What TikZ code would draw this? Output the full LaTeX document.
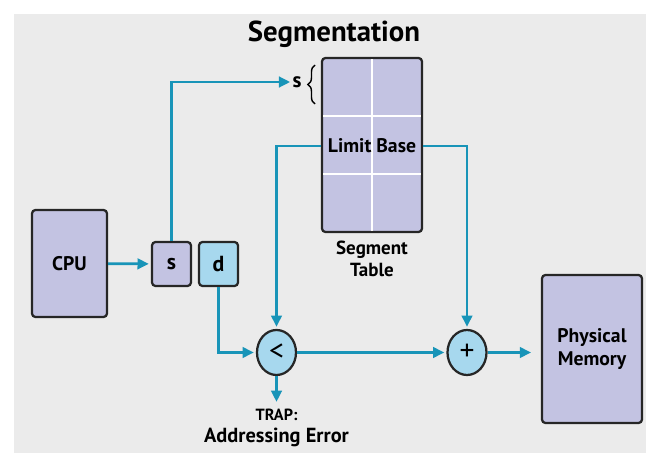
\documentclass[tikz,border=0pt]{standalone}
\usepackage{fontspec}
\setmainfont{PT Sans}
\usetikzlibrary{arrows.meta,calc,positioning,shapes.geometric,decorations.pathreplacing}
\definecolor{pagegray}{HTML}{EBEBEB}
\definecolor{boxlav}{HTML}{C3C3E2}
\definecolor{opblue}{HTML}{A7D8EE}
\definecolor{linkteal}{HTML}{1894B8}
\tikzset{
  unit/.style={draw=black!85, line width=1.6pt, rounded corners=2.5pt, fill=boxlav,
    font=\fontsize{14}{16.5}\selectfont\bfseries, align=center, inner sep=0pt},
  op/.style={ellipse, draw=black!85, line width=1.6pt, fill=opblue,
    minimum width=0.975cm, minimum height=1.125cm, inner sep=0pt,
    font=\fontsize{21}{21}\selectfont},
  flow/.style={draw=linkteal, line width=1.9pt, shorten >=1.5pt},
  grid/.style={white, line width=1.8pt, shorten <=1.6pt, shorten >=1.6pt},
  lbl/.style={font=\fontsize{13.5}{15.5}\selectfont\bfseries, align=center, inner sep=0pt}
}
\begin{document}
\begin{tikzpicture}[x=0.025cm, y=-0.025cm, >={Triangle[length=8pt,width=7.5pt]}]
\fill[white] (0,0) rectangle (646,453);
\fill[pagegray] (14,14) rectangle (646,453);
\useasboundingbox (0,0) rectangle (646,453);

\node[lbl, font=\fontsize{20.5}{22}\selectfont\bfseries] (title) at (334,34) {Segmentation};

% segment table, 2 columns x 3 rows
\node[unit, minimum width=2.5cm, minimum height=4.35cm] (tab) at (372,145) {};
\draw[grid] (tab.north) -- (tab.south);
\draw[grid] (tab.west |- 0,116) -- (tab.east |- 0,116);
\draw[grid] (tab.west |- 0,174) -- (tab.east |- 0,174);
\node[lbl, font=\fontsize{14}{16}\selectfont\bfseries] (lb) at (372,146) {Limit Base};
\node[lbl] (tabname) at (372,259) {Segment\\Table};
\node[lbl, font=\fontsize{15}{16}\selectfont\bfseries] (sidx) at (297,82) {s};
\draw[line width=1pt, decorate, decoration={brace, amplitude=5pt}] (315,104) -- (315,65);

% address parts
\node[unit, minimum width=1.875cm, minimum height=2.675cm] (cpu) at (69.5,263.5) {CPU};
\node[unit, font=\fontsize{15.5}{16}\selectfont\bfseries, minimum width=0.975cm, minimum height=1.1cm] (s) at (171.5,264) {s};
\node[unit, font=\fontsize{15.5}{16}\selectfont\bfseries, fill=opblue, minimum width=0.975cm, minimum height=1.1cm] (d) at (218.5,264) {d};

% compare and add
\node[op] (lt) at (276.5,352.5) {<};
\node[op] (plus) at (467,352.5) {+};
\node[unit, minimum width=2.5cm, minimum height=3.7cm] (mem) at (592,349) {Physical\\Memory};
\node[lbl] (trap) at (276.5,428) {\fontsize{11.5}{14}\selectfont TRAP:\\\fontsize{14.5}{17}\selectfont Addressing Error};

\draw[flow,->] (cpu) -- (s);
\draw[flow,->] (s.north) |- (sidx.west);
\draw[flow,->] (tab.west |- lb) -| (lt.north);
\draw[flow,->] (tab.east |- lb) -| (plus.north);
\draw[flow,->] (d.south) |- (lt.west);
\draw[flow,->] (lt.east) -- (plus.west);
\draw[flow,->,shorten >=7pt] (plus.east) -- (plus.east -| mem.west);
\draw[flow,->,shorten >=5pt] (lt.south) -- (trap.north);
\end{tikzpicture}
\end{document}
